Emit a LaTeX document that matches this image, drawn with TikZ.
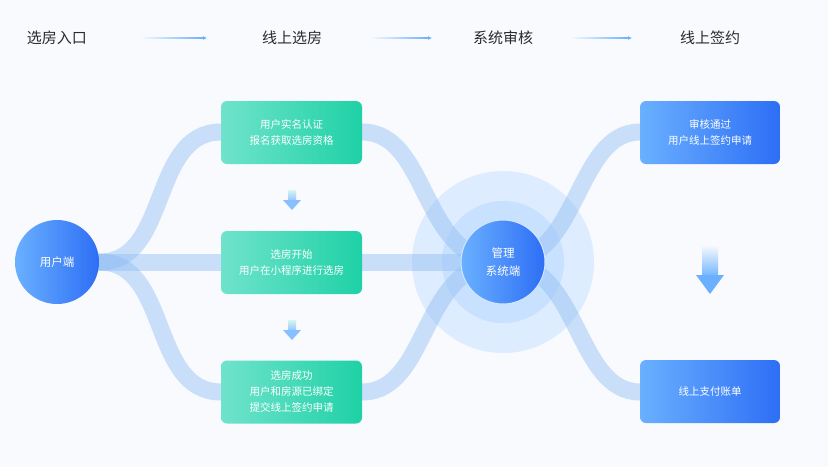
\documentclass[tikz,border=0pt]{standalone}
\usepackage{fontspec}
\setmainfont{Noto Sans CJK SC}
\usetikzlibrary{arrows.meta}
\definecolor{bgc}{HTML}{F8FAFD}
\definecolor{bandc}{HTML}{8FBDF5}
\definecolor{greenA}{HTML}{6FE3CB}
\definecolor{greenB}{HTML}{1FD1A6}
\definecolor{blueA}{HTML}{6AB0FF}
\definecolor{blueB}{HTML}{2D6EF5}
\definecolor{txtc}{HTML}{2B2B2B}
\tikzset{
  band/.style={line width=17pt, draw=bandc, draw opacity=0.45, line cap=round},
  greenbox/.style={rounded corners=6pt, left color=greenA, right color=greenB, minimum width=141pt, minimum height=63pt, text=white, align=center, font=\fontsize{10.5}{16}\selectfont},
  bluebox/.style={rounded corners=6pt, left color=blueA, right color=blueB, minimum width=140pt, minimum height=63pt, text=white, align=center, font=\fontsize{10.5}{16}\selectfont},
  hubnode/.style={circle, left color=blueA, right color=blueB, minimum size=84pt, text=white, align=center, font=\fontsize{11.5}{18}\selectfont},
  headtext/.style={text=txtc, font=\fontsize{15}{18}\selectfont},
  headarrow/.style={line width=1.4pt, -{Latex[length=4pt,width=4pt]}, draw=blueA},
}
\begin{document}
\begin{tikzpicture}[x=1pt, y=-1pt]
        \fill[bgc] (0,0) rectangle (828,467);
        \useasboundingbox (0,0) rectangle (828,467);

        % header row
        \node[headtext] (h1) at (57,38) {选房入口};
        \node[headtext] (h2) at (292,38) {线上选房};
        \node[headtext] (h3) at (503,38) {系统审核};
        \node[headtext] (h4) at (710,38) {线上签约};
        \foreach \a/\b in {140/207, 370/432, 570/632} {
            \shade[left color=bgc, right color=blueA] (\a,37.3) rectangle (\b-3,38.7);
            \draw[headarrow] (\b-4,38) -- (\b,38);
        }

        % rings
        \fill[blueA!40, opacity=0.5] (503,262) circle (91);
        \fill[blueA!50, opacity=0.5] (503,262) circle (61);

        % bands
        \draw[band] (100,262) .. controls (170,262) and (150,132) .. (221,132);
        \draw[band] (100,262) -- (221,262);
        \draw[band] (100,262) .. controls (170,262) and (150,392) .. (221,392);
        \draw[band] (362,132) .. controls (430,132) and (420,262) .. (503,262);
        \draw[band] (362,262) -- (503,262);
        \draw[band] (362,392) .. controls (430,392) and (420,262) .. (503,262);
        \draw[band] (503,262) .. controls (580,262) and (575,132) .. (640,132);
        \draw[band] (503,262) .. controls (580,262) and (575,392) .. (640,392);

        % nodes
        \node[hubnode, minimum size=84pt] (user) at (57,262) {用户端};
        \node[hubnode, draw=white!70!blueA, line width=1pt] (admin) at (503,262) {管理\\系统端};
        \node[greenbox] (g1) at (291.5,132.5) {用户实名认证\\报名获取选房资格};
        \node[greenbox] (g2) at (291.5,262.5) {选房开始\\用户在小程序进行选房};
        \node[greenbox] (g3) at (291.5,392) {选房成功\\用户和房源已绑定\\提交线上签约申请};
        \node[bluebox] (b1) at (710,132.5) {审核通过\\用户线上签约申请};
        \node[bluebox] (b2) at (710,391.5) {线上支付账单};

        % down arrows
        \foreach \y in {190,320} {
            \shade[top color=greenA!30, bottom color=blueA!70] (288,\y) rectangle (296,\y+10);
            \fill[blueA!80] (283,\y+10) -- (301,\y+10) -- (292,\y+20) -- cycle;
        }
        \shade[top color=bgc, bottom color=blueA!90] (702,245) rectangle (718,275);
        \fill[blueA] (696,275) -- (724,275) -- (710,294) -- cycle;
    \end{tikzpicture}
\end{document}
